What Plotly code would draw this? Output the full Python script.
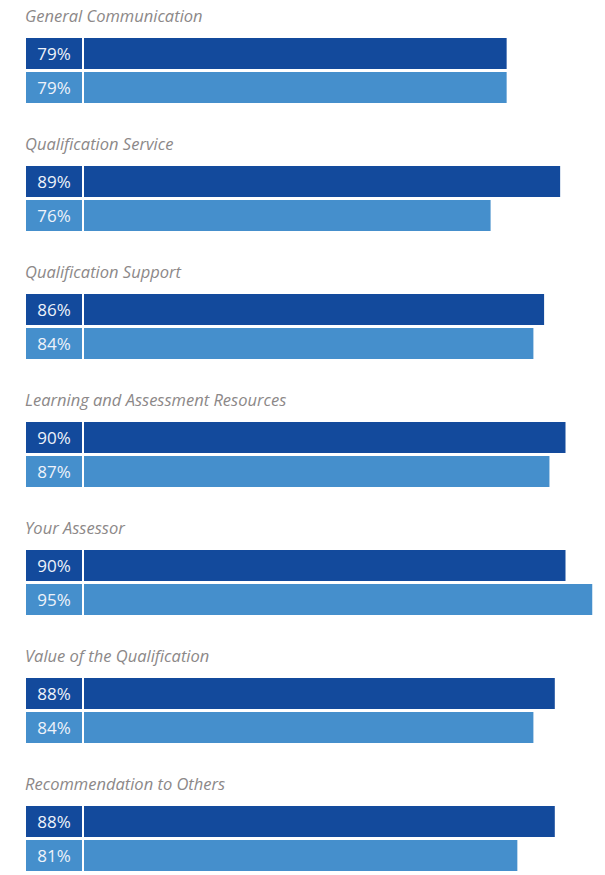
import plotly.graph_objects as go

categories = [
    "General Communication",
    "Qualification Service",
    "Qualification Support",
    "Learning and Assessment Resources",
    "Your Assessor",
    "Value of the Qualification",
    "Recommendation to Others",
]
series_a = [79, 89, 86, 90, 90, 88, 88]   # dark blue
series_b = [79, 76, 84, 87, 95, 84, 81]   # light blue

DARK = "#134a9c"
LIGHT = "#458fcc"
W, H = 605, 875
ZERO_PX, PX_PER = 84, 5.35
PITCH = 128

def xv(px):
    return (px - ZERO_PX) / PX_PER

ya = [i * PITCH + 53.5 for i in range(len(categories))]
yb = [i * PITCH + 87.5 for i in range(len(categories))]
yt = [i * PITCH + 15 for i in range(len(categories))]

box_base = xv(26)
box_len = xv(82) - box_base

fig = go.Figure()
fig.add_trace(go.Bar(y=ya, x=series_a, orientation="h", width=31,
                     marker=dict(color=DARK, line=dict(width=0)), hoverinfo="skip"))
fig.add_trace(go.Bar(y=yb, x=series_b, orientation="h", width=31,
                     marker=dict(color=LIGHT, line=dict(width=0)), hoverinfo="skip"))
for ys, vals, col in [(ya, series_a, DARK), (yb, series_b, LIGHT)]:
    fig.add_trace(go.Bar(
        y=ys, x=[box_len] * len(vals), base=[box_base] * len(vals), orientation="h", width=31,
        marker=dict(color=col, line=dict(width=0)),
        text=[f"{v}%" for v in vals], textposition="inside", insidetextanchor="middle",
        textfont=dict(family="Open Sans", size=17, color="#eef2fa"),
        textangle=0, hoverinfo="skip"))

for c, y in zip(categories, yt):
    fig.add_annotation(x=box_base, y=y, text=f"<i>{c}</i>", showarrow=False,
                       xanchor="left", yanchor="middle", xshift=-2, borderpad=0,
                       font=dict(family="Open Sans", size=16.5, color="#8c8888"))

fig.update_layout(
    width=W, height=H, margin=dict(l=0, r=0, t=0, b=0),
    paper_bgcolor="white", plot_bgcolor="white", showlegend=False,
    barmode="overlay", uniformtext=dict(minsize=8, mode="show"),
    xaxis=dict(range=[xv(0), xv(W)], visible=False, fixedrange=True),
    yaxis=dict(range=[H, 0], visible=False, fixedrange=True),
)
fig.write_html("out.html", config={"displayModeBar": False, "staticPlot": True},
               post_script="document.body.style.margin='0';document.body.style.overflow='hidden';")
